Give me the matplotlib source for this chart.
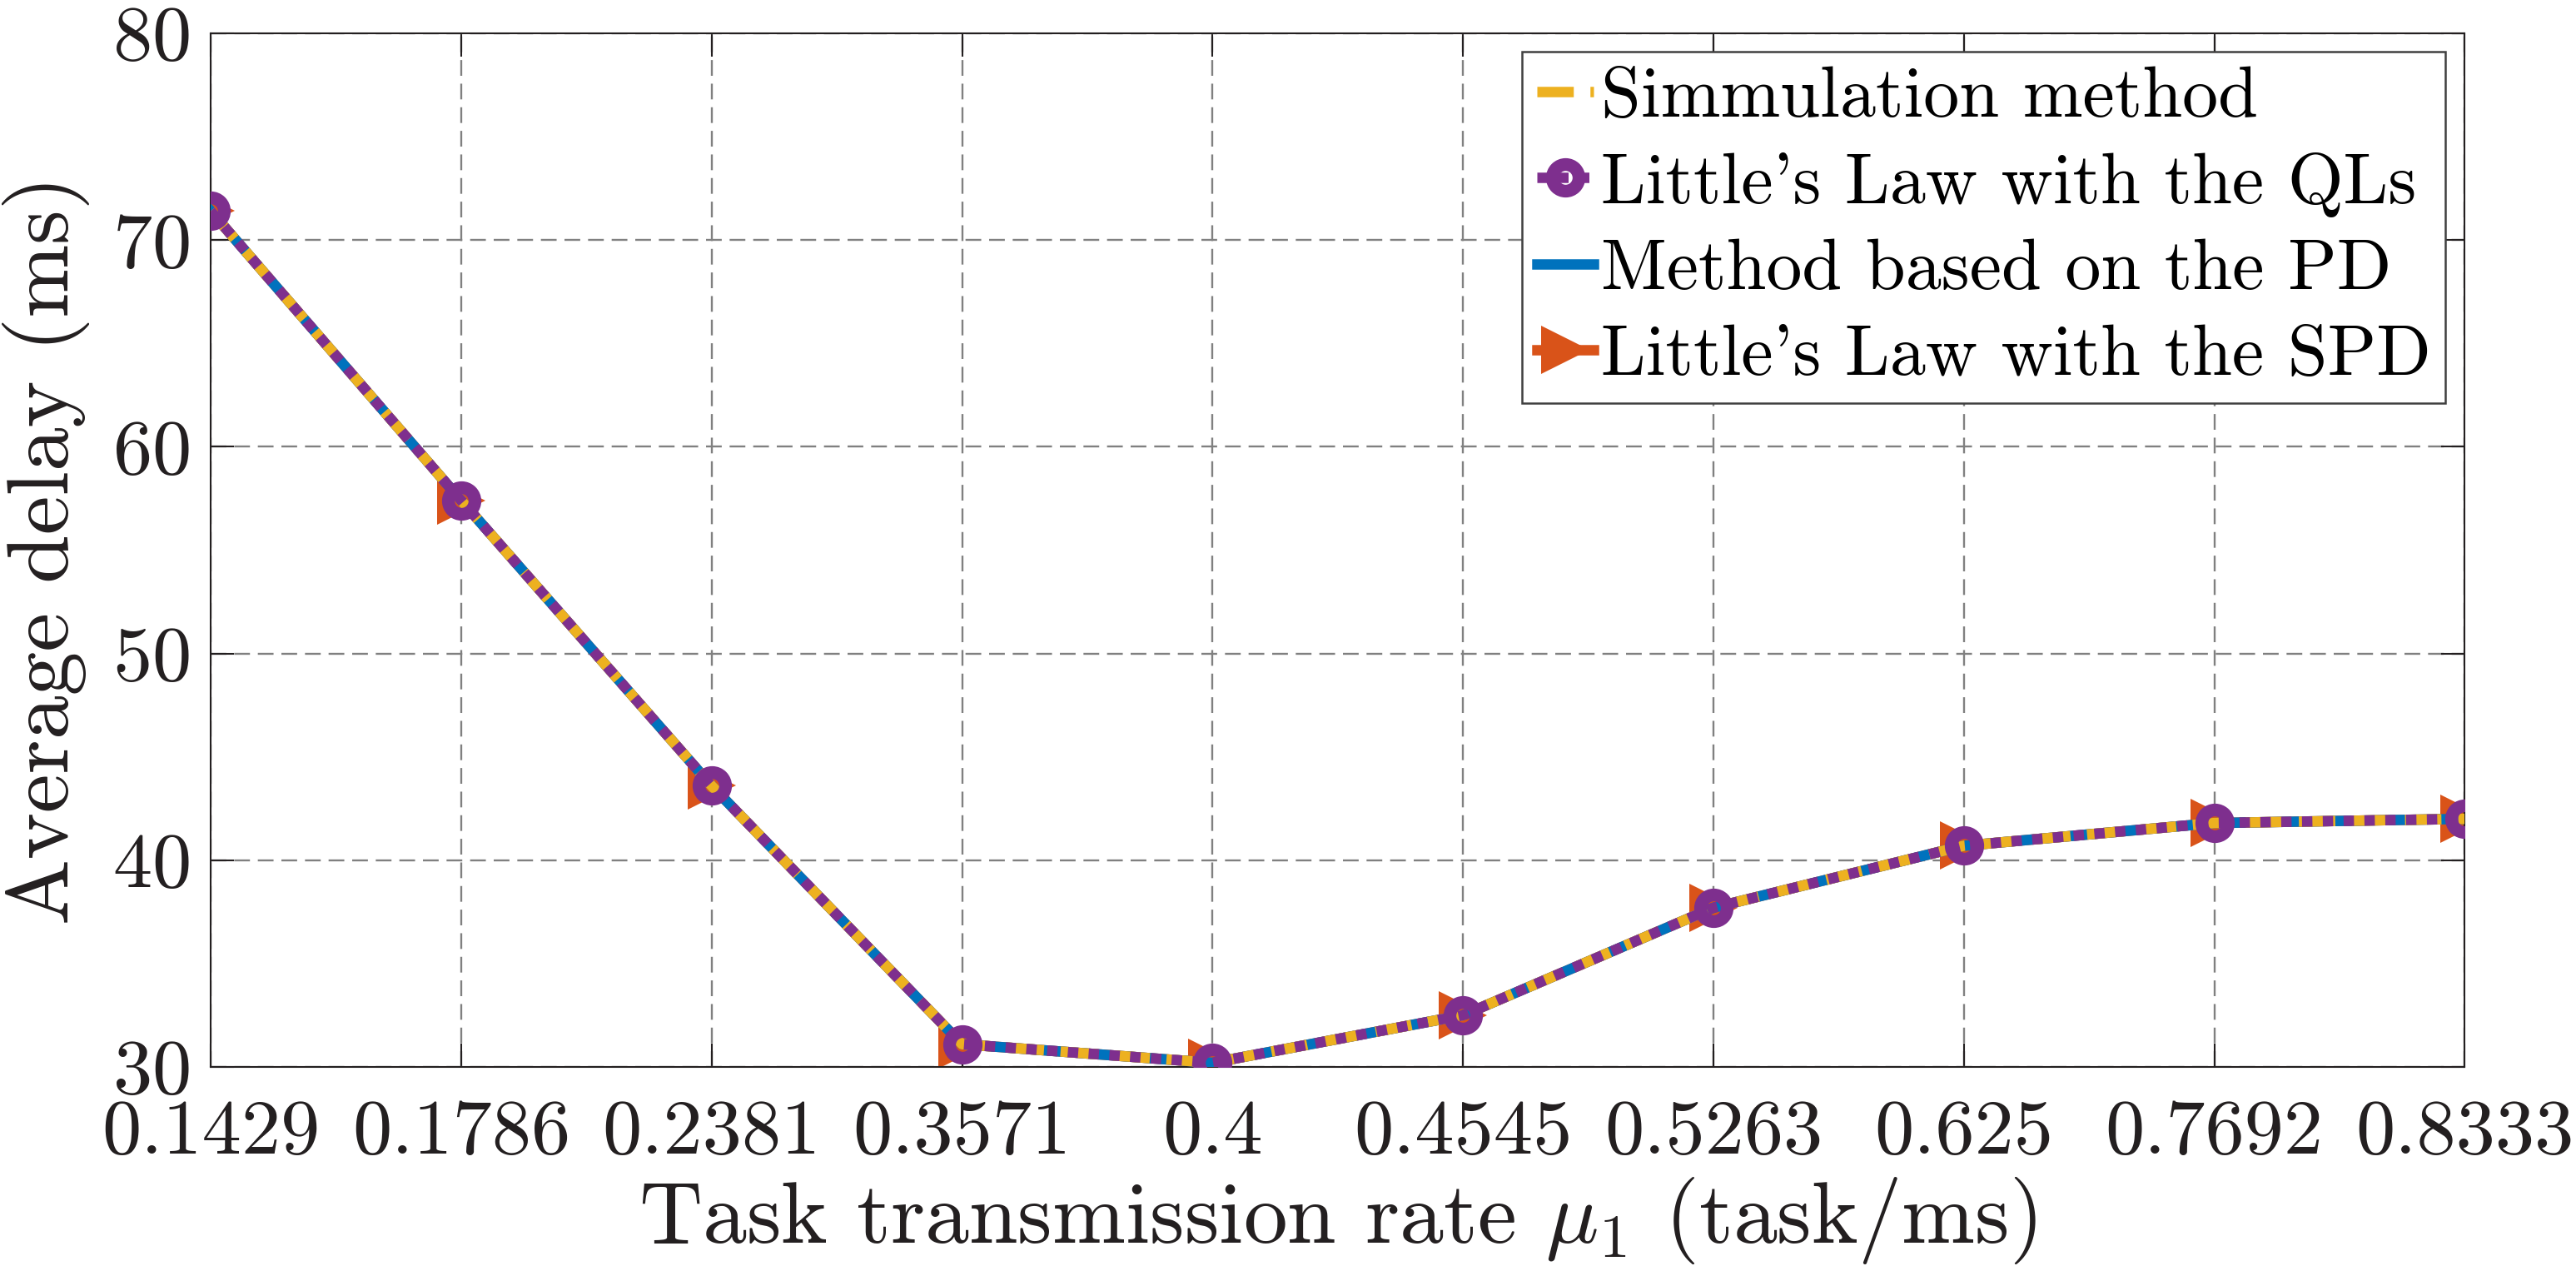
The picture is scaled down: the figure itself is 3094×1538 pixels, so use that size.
import matplotlib
matplotlib.use("Agg")
import matplotlib.pyplot as plt

plt.rcParams['font.family'] = ['cmr10', 'DejaVu Serif']
plt.rcParams['mathtext.fontset'] = 'cm'
plt.rcParams['axes.formatter.use_mathtext'] = True

# ---------- data
rate_labels = ['0.1429', '0.1786', '0.2381', '0.3571', '0.4',
               '0.4545', '0.5263', '0.625', '0.7692', '0.8333']
positions = list(range(1, len(rate_labels) + 1))
delay_sim = [71.4, 57.4, 43.6, 31.1, 30.2, 32.5, 37.7, 40.7, 41.8, 42.0]
delay_ql = [71.4, 57.4, 43.6, 31.1, 30.2, 32.5, 37.7, 40.7, 41.8, 42.0]
delay_pd = [71.4, 57.4, 43.6, 31.1, 30.2, 32.5, 37.7, 40.7, 41.8, 42.0]
delay_spd = [71.4, 57.4, 43.6, 31.1, 30.2, 32.5, 37.7, 40.7, 41.8, 42.0]
y_ticks = [30, 40, 50, 60, 70, 80]

# ---------- figure
fig = plt.figure(figsize=(15.47, 7.69), dpi=200)
ax = fig.add_axes([0.0818, 0.1671, 0.875, 0.8069])

lw = 4.5
h_spd, = ax.plot(positions, delay_spd, color='#D95319', linestyle='-', linewidth=lw,
                 marker='>', markersize=21, markeredgewidth=0, zorder=2,
                 label="Little's Law with the SPD")
h_pd, = ax.plot(positions, delay_pd, color='#0072BD', linestyle='-', linewidth=lw,
                zorder=3, label='Method based on the PD')
h_sim, = ax.plot(positions, delay_sim, color='#EDB120', linestyle=(0, (3.5, 1.6)),
                 linewidth=lw, zorder=4, label='Simmulation method')
h_ql, = ax.plot(positions, delay_ql, color='#7E2F8E', linestyle=(0, (1.0, 1.0)),
                linewidth=lw, marker='o', markersize=11.5, markerfacecolor='none',
                markeredgewidth=5.5, zorder=5, label="Little's Law with the QLs")

ax.set_xlim(1, 10)
ax.set_ylim(30, 80)
ax.set_xticks(positions)
ax.set_xticklabels(rate_labels)
ax.set_yticks(y_ticks)

ax.grid(True, color='#808080', linestyle=(0, (8, 4)), linewidth=0.85)
ax.set_axisbelow(True)
ax.tick_params(direction='in', length=10, width=0.75, top=True, right=True,
               colors='#231F20')
ax.tick_params(axis='y', labelsize=34, pad=9)
ax.tick_params(axis='x', labelsize=34, pad=14)
for s in ax.spines.values():
    s.set_linewidth(0.75)
    s.set_color('#231F20')

ax.set_xlabel('Task transmission rate $\\mu_1$ (task/ms)', fontsize=38, color='#231F20',
              labelpad=3)
ax.set_ylabel('Average delay (ms)', fontsize=38, color='#231F20', labelpad=10)

leg = ax.legend(handles=[h_sim, h_ql, h_pd, h_spd], loc='upper right',
                bbox_to_anchor=(0.9915, 0.9823), fontsize=31, fancybox=False,
                framealpha=1, edgecolor='#404040', handlelength=0.8,
                handletextpad=0.1, borderpad=0.2, labelspacing=0.3,
                borderaxespad=0)
leg.get_frame().set_linewidth(0.9)

fig.savefig('out.png', dpi=200)
